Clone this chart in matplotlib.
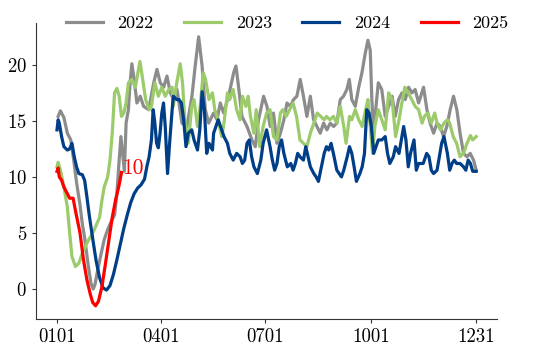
import matplotlib
matplotlib.use("Agg")
import matplotlib.pyplot as plt

plt.rcParams['font.family'] = ['cmr10', 'DejaVu Serif']
plt.rcParams['axes.formatter.use_mathtext'] = True

tick_days = [0, 90, 181, 273, 364]
tick_labels = ['0101', '0401', '0701', '1001', '1231']
y_ticks = [0, 5, 10, 15, 20]

days_2022 = [1, 3, 6, 9, 12, 14.5, 17, 20, 22, 24, 27, 29.5, 31.5, 33, 35, 38, 41, 44, 47, 50, 52, 54, 55.5, 57,
             58.5, 60, 62, 63.5, 65, 67, 69.4, 72.3, 75.2, 79.6, 84, 86.8, 89.7, 92.6, 95.5, 98.4, 101.3, 104.2,
             108.5, 112.8, 117.2, 120, 123, 126, 128.8, 131.7, 136, 139, 141.8, 144.7, 149, 153.4, 155.4,
             157.7, 160.6, 165, 169.3, 172.2, 175, 179.4, 182.3, 185.2, 188, 191, 194, 197, 199.7, 202.5,
             205.4, 208.3, 211.2, 214, 217, 220, 222.8, 225.7, 228.6, 231.5, 234.4, 237.3, 240.2, 243, 246,
             248.8, 251.7, 253.8, 256, 259, 262, 264.8, 267.6, 270, 272, 273.4, 275, 277, 279, 282, 285,
             288, 291, 293.7, 296.6, 299.5, 302.4, 305.3, 308.2, 311, 314, 316.8, 318.3, 321.2, 324, 327,
             330, 332.8, 335.6, 338.5, 341.4, 344.3, 347.2, 350, 353, 356, 358.8, 361.7, 364]
vals_2022 = [15.4, 15.9, 15.3, 13.9, 13.3, 11.5, 9.5, 7.5, 5.8, 4.6, 2.2, 0.5, 0.0, 0.4, 1.5, 3.0, 4.4, 5.3, 6.0,
             6.6, 8.5, 11.5, 13.6, 12.0, 10.5, 14.8, 16.0, 18.4, 20.1, 18.7, 16.6, 17.2, 16.3, 16.0, 18.4, 19.6,
             18.4, 18.0, 19.0, 17.5, 16.9, 17.8,
             14.8, 14.5, 17.2, 19.9, 22.5, 19.9, 16.0, 14.8, 15.7, 15.1, 16.6, 15.7, 17.2, 19.3, 19.9,
             18.0, 15.4, 14.5, 13.3, 12.7, 15.1, 17.2, 16.3, 14.5, 15.7, 13.0, 13.9, 15.1, 16.6, 16.3,
             16.9, 17.2, 18.7, 17.2, 15.4, 17.2, 15.1, 14.5, 13.9, 14.8, 14.2, 14.8, 14.5, 14.8, 16.9,
             17.2, 17.8, 18.7, 16.9, 16.3, 18.0, 19.3, 21.0, 22.2, 21.3, 16.9, 13.9, 16.3, 18.4, 17.8, 15.4,
             16.3, 17.2, 15.4, 16.9, 17.5, 16.9, 18.0, 17.5, 17.8, 16.6, 17.5, 18.0, 16.0, 14.8, 13.9,
             14.8, 14.5, 13.6, 14.5, 16.0, 17.2, 16.0, 13.9, 12.1, 11.8, 12.1, 11.5, 10.6]

days_2023 = [0, 1, 3, 6, 9, 11, 13, 16, 19, 22, 26, 32, 37, 39, 41, 44, 46, 48, 50, 52, 54, 56, 58, 60, 62,
             65, 68, 72, 74, 77, 80, 82, 85, 88, 91, 94, 97, 100, 101, 104, 107, 109, 111, 114, 117, 119,
             122, 124, 127, 129, 132, 135, 137, 140, 143, 145, 148, 150, 153, 156, 159, 161, 164, 166, 168,
             171, 173, 176, 179, 182, 185, 188, 191, 194, 196, 199, 202, 205, 208, 211, 214, 217, 220, 223,
             226, 229, 232, 234, 237, 240, 243, 246, 249, 251, 254, 256, 259, 262, 265, 268, 270, 272, 274,
             276, 279, 282, 285, 288, 291, 294, 297, 300, 302, 305, 308, 311, 314, 317, 319, 322, 325, 328,
             330, 333, 336, 339, 341, 344, 347, 350, 353, 356, 359, 361, 364]
vals_2023 = [10.9, 11.3, 10.6, 9.1, 7.3, 5.0, 2.9, 2.0, 2.3, 3.2, 4.1, 5.2, 6.4, 7.9, 9.1, 10.0, 11.5, 13.9, 17.5, 17.9,
             17.2, 15.4, 15.7, 16.6, 18.4, 18.7, 18.0, 20.3, 19.0, 16.9, 16.0, 16.3, 18.4, 17.2, 18.0, 17.2,
             17.8, 18.0, 16.3, 18.4, 20.1, 18.4, 15.1, 13.0, 16.3, 16.9, 14.5, 16.0, 19.3, 18.7, 16.9,
             17.5, 16.0, 15.1, 13.6, 14.8, 17.5, 16.9, 17.8, 16.0, 15.1, 17.2, 16.3, 17.2, 15.4, 13.9,
             16.0, 12.7, 14.5, 15.7, 16.0, 13.6, 13.3, 15.7, 16.0, 15.4, 16.0, 16.6, 15.4, 13.3, 13.0,
             12.7, 13.9, 14.8, 15.7, 15.4, 15.1, 15.4, 15.1, 15.4, 14.8, 16.3, 14.5, 13.0, 15.4, 15.1,
             16.0, 15.1, 14.5, 16.0, 16.9, 14.5, 12.1, 14.5, 16.0, 15.1, 14.2, 17.5, 16.9, 13.6, 15.1,
             16.9, 18.0, 17.5, 16.9, 16.3, 16.0, 14.8, 15.4, 15.7, 14.8, 15.7, 14.8, 14.2, 14.8, 15.1,
             14.8, 13.6, 13.0, 11.8, 12.1, 13.0, 13.7, 13.3, 13.6]

days_2024 = [0, 1, 2, 4, 6, 9, 11, 13, 15, 17, 19, 22, 24, 26, 28, 31, 34, 37, 40, 43, 46, 49, 52, 55, 58,
             61, 64, 67, 70, 73, 76, 78, 80, 82, 83.5, 85, 86.5, 88, 89.5, 91, 92.5, 94, 96, 98, 100, 101, 104,
             106, 108, 110, 112, 114, 117, 119, 122, 124, 126, 128, 130, 132, 135, 136, 138, 140, 142, 145, 148,
             150, 153, 156, 159, 161, 163, 165, 167, 169, 171, 174, 177, 179, 182, 185, 187, 189, 191, 193,
             195, 197, 200, 203, 205, 207, 209, 211, 214, 216, 218, 220, 223, 225, 227, 229, 232, 234, 236,
             238, 240, 243, 245, 247, 249, 252, 254, 256, 258, 260, 263, 265, 267, 269, 271, 273, 275, 277,
             279, 282, 285, 287, 289, 292, 294, 297, 299, 301, 303, 305, 307, 310, 312, 314, 316, 318, 321,
             323, 325, 327, 330, 332, 334, 336, 339, 341, 343, 345, 347, 350, 353, 355, 357, 359, 361, 364]
vals_2024 = [14.2, 15.1, 14.8, 13.6, 12.7, 12.4, 12.5, 13.0, 11.8, 10.9, 10.3, 10.2, 9.7, 8.2, 6.6, 4.5, 2.5, 1.0,
             0.1, -0.1, 0.3, 1.3, 2.6, 4.0, 5.4, 6.6, 7.7, 8.5, 9.0, 9.3, 9.8, 10.9, 11.8, 13.3, 16.0, 14.8,
             13.0, 12.6, 13.9, 15.7, 16.6, 14.5, 10.3, 13.3, 16.0, 17.2, 16.9,
             16.9, 16.6, 15.1, 12.7,
             13.9, 14.2, 13.3, 12.4, 14.2, 17.6, 16.0, 12.1, 13.0, 12.4, 13.9, 14.5, 15.1, 14.5, 13.6,
             13.0, 12.1, 11.5, 12.1, 11.8, 11.2, 11.5, 13.0, 13.3, 11.8, 10.9, 10.3, 11.5, 13.0, 14.2,
             12.7, 11.5, 10.6, 11.2, 12.7, 13.3, 12.1, 10.9, 11.2, 10.6, 11.2, 12.1, 11.8, 11.5, 12.7,
             11.8, 10.9, 10.3, 10.0, 9.6, 10.6, 12.1, 12.7, 12.4, 13.0, 12.1, 10.6, 10.3, 10.0, 10.6,
             11.8, 12.7, 12.1, 10.9, 9.6, 10.3, 10.9, 12.1, 16.0, 15.7, 14.5, 12.1, 12.7, 13.3, 13.3,
             13.6, 12.1, 11.2, 11.8, 12.7, 12.1, 13.3, 14.5, 13.3, 10.9, 12.1, 13.3, 10.6, 11.2, 11.2,
             11.2, 12.1, 11.8, 10.6, 10.3, 10.6, 11.8, 13.0, 13.6, 12.1, 10.6, 11.2, 11.5, 11.2, 11.2,
             10.9, 10.6, 11.5, 11.2, 10.5, 10.5]

days_2025 = [0, 1, 2, 4, 6, 8, 11, 14, 16, 18, 20, 23, 26, 29, 31, 33.5, 36, 39, 42, 45, 48, 51, 54, 56]
vals_2025 = [10.5, 10.8, 10.0, 9.7, 9.1, 8.7, 8.1, 8.1, 7.0, 6.0, 5.0, 2.6, 0.8, -0.5, -1.2, -1.5, -1.1, 0.2,
             2.2, 4.3, 6.4, 8.0, 9.3, 10.4]

series = [
    ('2022', days_2022, vals_2022, '#8c8c8c'),
    ('2023', days_2023, vals_2023, '#9bcb6a'),
    ('2024', days_2024, vals_2024, '#003f88'),
    ('2025', days_2025, vals_2025, '#ff0000'),
]

fig = plt.figure(figsize=(5.5, 3.53), dpi=100)
ax = fig.add_axes([0.0655, 0.0963, 0.838, 0.839])

for name, d, v, c in series:
    ax.plot(d, v, color=c, lw=2.3, label=name, solid_joinstyle='round')

ax.text(days_2025[-1] + 0.8, vals_2025[-1] - 0.1, f"{vals_2025[-1]:.0f}", color='#ff0000',
        fontsize=15.5, ha='left', va='baseline')

ax.set_xlim(-18.2, 382)
ax.set_ylim(-2.68, 23.75)
ax.set_xticks(tick_days)
ax.set_xticklabels(tick_labels)
ax.set_yticks(y_ticks)
ax.tick_params(labelsize=13.5, length=3, width=0.8, color='#333333')
for s in ['top', 'right']:
    ax.spines[s].set_visible(False)
for s in ['left', 'bottom']:
    ax.spines[s].set_color('#333333')
    ax.spines[s].set_linewidth(0.8)

fig.legend(loc='center', bbox_to_anchor=(0.522, 0.934), ncol=4, frameon=False, fontsize=13,
           handlelength=2.05, handletextpad=0.8, columnspacing=1.7)

fig.savefig('out.png', dpi=100)
